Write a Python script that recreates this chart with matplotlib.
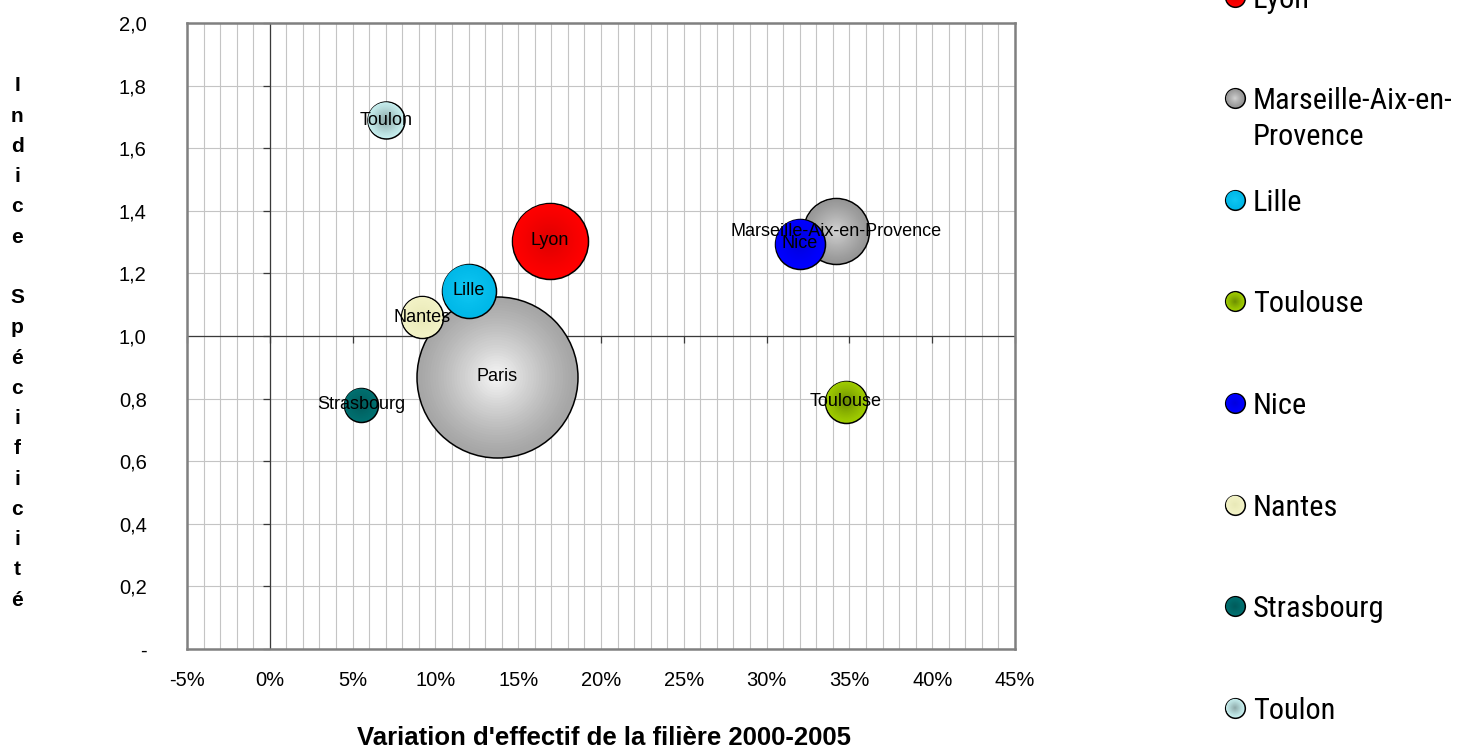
import numpy as np
import matplotlib
matplotlib.use("Agg")
import matplotlib.pyplot as plt
from matplotlib.colors import to_rgb
from matplotlib.ticker import MultipleLocator, FixedLocator
from matplotlib import font_manager

plt.rcParams['font.family'] = ['Liberation Sans', 'DejaVu Sans']

# ---------------- data ----------------
cities = ["Paris", "Lyon", "Marseille-Aix-en-Provence", "Lille", "Toulouse",
          "Nice", "Nantes", "Strasbourg", "Toulon"]
variation_pct = [13.7, 16.9, 34.2, 12.0, 34.8, 32.0, 9.2, 5.5, 7.0]
indice_spec = [0.87, 1.305, 1.335, 1.145, 0.79, 1.295, 1.06, 0.78, 1.69]
bubble_size = [6480, 1444, 1089, 729, 441, 625, 441, 289, 342]
legend_labels = ["Paris", "Lyon", "Marseille-Aix-en-\nProvence", "Lille", "Toulouse",
                 "Nice", "Nantes", "Strasbourg", "Toulon"]
edge_colors = ["#a6a6a6", "#ff0000", "#969696", "#00b8e8", "#9fcc00",
               "#0000ff", "#f2f2c6", "#007070", "#c6eeee"]
center_colors = ["#f8f8f8", "#dc0000", "#d4d4d4", "#10c8f4", "#6a8a00",
                 "#0000dc", "#e8e8b6", "#005a5a", "#8aa4a4"]
x_ticks = [-5, 0, 5, 10, 15, 20, 25, 30, 35, 40, 45]
y_ticks = [0.0, 0.2, 0.4, 0.6, 0.8, 1.0, 1.2, 1.4, 1.6, 1.8, 2.0]
y_tick_labels = ["-", "0,2", "0,4", "0,6", "0,8", "1,0", "1,2", "1,4", "1,6", "1,8", "2,0"]
x_tick_labels = ["-5%", "0%", "5%", "10%", "15%", "20%", "25%", "30%", "35%", "40%", "45%"]

W, H = 1457, 753
fig = plt.figure(figsize=(W / 100, H / 100), dpi=100)
ax = fig.add_axes([187 / W, (H - 649) / H, (1015 - 187) / W, (649 - 23) / H])

ax.set_xlim(-5, 45)
ax.set_ylim(0, 2.0)
ax.xaxis.set_major_locator(FixedLocator(x_ticks))
ax.xaxis.set_minor_locator(MultipleLocator(1))
ax.yaxis.set_major_locator(FixedLocator(y_ticks))
ax.set_xticklabels(x_tick_labels, fontsize=14.5)
ax.set_yticklabels(y_tick_labels, fontsize=14.5)
ax.tick_params(axis='both', which='both', length=0)
ax.tick_params(axis='x', pad=16)
ax.tick_params(axis='y', pad=29)

ax.grid(True, axis='y', which='major', color='#c4c4c4', lw=0.8, zorder=0)
ax.grid(True, axis='x', which='minor', color='#c4c4c4', lw=0.8, zorder=0)
ax.grid(True, axis='x', which='major', color='#c4c4c4', lw=0.8, zorder=0)
ax.set_axisbelow(True)
for sp in ax.spines.values():
    sp.set_color('#808080')
    sp.set_linewidth(1.8)

# crossing axes at x=0 and y=1
ax.axvline(0, color='#3a3a3a', lw=0.9, zorder=1)
ax.axhline(1.0, color='#3a3a3a', lw=0.9, zorder=1)
ax.plot(np.zeros(len(y_ticks)), y_ticks, ls='none', marker=0, markersize=5,
        markeredgewidth=0.9, color='#3a3a3a', zorder=1, clip_on=False)
ax.plot(x_ticks, np.ones(len(x_ticks)), ls='none', marker=3, markersize=5,
        markeredgewidth=0.9, color='#3a3a3a', zorder=1, clip_on=False)


def gradient_bubble(axis, x, y, s, c_edge, c_center, z, n=30):
    ce = np.array(to_rgb(c_edge))
    cc = np.array(to_rgb(c_center))
    axis.scatter([x], [y], s=s, c=[ce], edgecolors='black', linewidths=1.1,
                 zorder=z, clip_on=False)
    for k in range(1, n):
        f = 1 - k / n
        col = ce + (cc - ce) * (1 - f) ** 1.2
        axis.scatter([x], [y], s=s * f * f * 0.985, c=[col], edgecolors='none',
                     zorder=z + k * 0.001, clip_on=False)


scale = (2 * 0.72) ** 2
for i, name in enumerate(cities):
    gradient_bubble(ax, variation_pct[i], indice_spec[i], bubble_size[i] * scale,
                    edge_colors[i], center_colors[i], z=2 + i)
for i, name in enumerate(cities):
    ax.text(variation_pct[i], indice_spec[i], name, ha='center', va='center',
            fontsize=13, color='black', zorder=20)

# axis titles
fig.text(604 / W, 1 - 745 / H, "Variation d'effectif de la filière 2000-2005",
         ha='center', va='baseline', fontsize=18.5, fontweight='bold')
fig.text(17 / W, 1 - 343 / H, "\n".join(list("Indice Spécificité")),
         ha='center', va='center', fontsize=15, fontweight='bold', linespacing=1.75)

# legend font: prefer a narrow family if installed
available = {f.name for f in font_manager.fontManager.ttflist}
leg_family = 'Liberation Sans'
for cand in ['Liberation Sans Narrow', 'Arial Narrow', 'Roboto Condensed',
             'Open Sans Condensed', 'DejaVu Sans Condensed']:
    if cand in available:
        leg_family = cand
        break

# size the legend font so that the first line of the longest entry spans ~199 px
renderer = fig.canvas.get_renderer()
probe = fig.text(0, 0, "Marseille-Aix-en-", fontsize=20, family=leg_family)
pw = probe.get_window_extent(renderer).width
probe.remove()
leg_size = min(24, 20 * 199 / pw)
leg_ls = 36 / (0.96 * leg_size * 100 / 72) * (36 / 32)

# legend (manual, partly cut off at top like the reference)
lax = fig.add_axes([0, 0, 1, 1], facecolor='none')
lax.set_xlim(0, W)
lax.set_ylim(H, 0)
lax.axis('off')
for i, lab in enumerate(legend_labels):
    yc = -105 + i * 101.6
    extra = 36 * lab.count("\n")
    gradient_bubble(lax, 1235, yc, 200, edge_colors[i], center_colors[i], z=2, n=12)
    lax.text(1253, yc + 0.36 * leg_size * 100 / 72 + extra, lab, ha='left',
             va='baseline', fontsize=leg_size, family=leg_family, linespacing=leg_ls)

fig.savefig("out.png", dpi=100)
